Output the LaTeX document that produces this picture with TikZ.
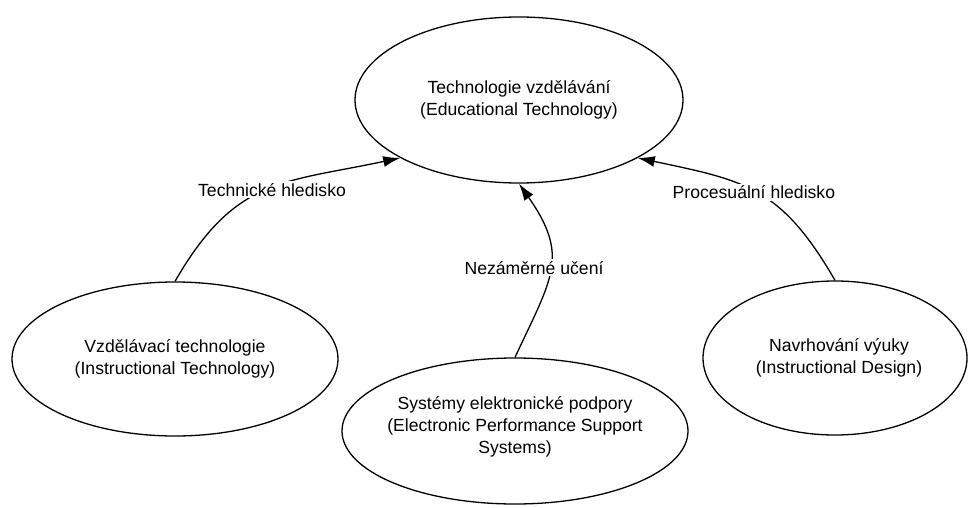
\documentclass[tikz,border=0pt]{standalone}
\usepackage{fontspec}
\setmainfont{Liberation Sans}
\usetikzlibrary{shapes.geometric,arrows.meta}

\begin{document}
\begin{tikzpicture}[
    x=1pt, y=-1pt,
    bubble/.style={draw, ellipse, line width=1.3pt, inner sep=0pt},
    caption/.style={align=center, font=\fontsize{17.6}{22}\selectfont},
    link/.style={line width=1.3pt, -{Latex[length=17pt,width=11pt]}},
    linklabel/.style={fill=white, inner sep=2pt, font=\fontsize{17.6}{22}\selectfont}
  ]
  \useasboundingbox (0,0) rectangle (968,508);

  % concept ellipses
  \node[bubble, minimum width=328pt, minimum height=166pt] (top) at (519,100) {};
  \node[bubble, minimum width=326pt, minimum height=154pt] (left) at (175,359) {};
  \node[bubble, minimum width=346pt, minimum height=146pt] (mid) at (515,431) {};
  \node[bubble, minimum width=264pt, minimum height=154pt] (right) at (835,358) {};

  % their texts
  \node[caption] (top-text) at (top) {Technologie vzdělávání\\(Educational Technology)};
  \node[caption] (left-text) at (left) {Vzdělávací technologie\\(Instructional Technology)};
  \node[caption] (mid-text) at ([yshift=4pt]mid.center) {Systémy elektronické podpory\\(Electronic Performance Support\\Systems)};
  \node[caption] (right-text) at ([xshift=4pt]right.center) {Navrhování výuky\\(Instructional Design)};

  % connectors into the central concept
  \draw[link] (left.north) to[out=60, in=192, looseness=1.2]
    node[linklabel, pos=0.5, xshift=6pt] (lab-left) {Technické hledisko} (top.206);
  \draw[link] (mid.north) to[out=65, in=-55, looseness=1.3]
    node[linklabel, pos=0.5, xshift=-16pt] (lab-mid) {Nezáměrné učení} (top.south);
  \draw[link] (right.north) to[out=120, in=-12, looseness=1.2]
    node[linklabel, pos=0.5, xshift=-2pt] (lab-right) {Procesuální hledisko} (top.334);
\end{tikzpicture}
\end{document}
